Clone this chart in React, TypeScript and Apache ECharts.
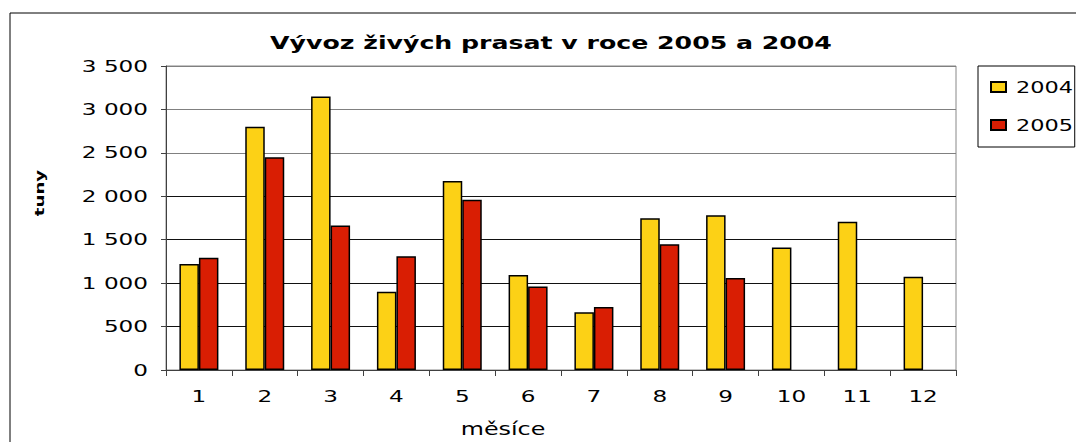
import React, { useEffect, useRef } from "react";
import * as echarts from "echarts";

const months = ["1", "2", "3", "4", "5", "6", "7", "8", "9", "10", "11", "12"];
const series2004 = [1220, 2800, 3150, 900, 2175, 1095, 665, 1748, 1782, 1410, 1706, 1075];
const series2005: (number | null)[] = [1292, 2450, 1664, 1311, 1961, 961, 726, 1448, 1060, null, null, null];
const yTicks = { min: 0, max: 3500, interval: 500 };
const titleText = "Vývoz živých prasat v roce 2005 a 2004";
const xName = "měsíce";
const yName = "tuny";

const FONT = "DejaVu Sans";
const WIDEN = 1.4;

function fmt(v: number): string {
  return String(v).replace(/\B(?=(\d{3})+(?!\d))/g, " ");
}

function widenTexts(root: HTMLElement) {
  const texts = root.querySelectorAll("svg text");
  texts.forEach((node) => {
    const t = node as SVGTextElement;
    const len = t.getComputedTextLength();
    if (len > 0) {
      t.setAttribute("textLength", String(len * WIDEN));
      t.setAttribute("lengthAdjust", "spacingAndGlyphs");
    }
  });
}

export default function App() {
  const ref = useRef<HTMLDivElement>(null);
  useEffect(() => {
    if (!ref.current) return;
    const chart = echarts.init(ref.current, null, { renderer: "svg" });
    chart.setOption({
      animation: false,
      backgroundColor: "#fff",
      textStyle: { fontFamily: FONT, color: "#000" },
      title: {
        text: titleText,
        left: 546,
        top: 28,
        textAlign: "center",
        textStyle: { fontFamily: FONT, fontSize: 18, fontWeight: "bold", color: "#000" },
      },
      legend: {
        orient: "vertical",
        left: 978,
        top: 66,
        padding: [13, 18, 14, 12],
        itemGap: 22,
        itemWidth: 15,
        itemHeight: 10,
        icon: "rect",
        borderColor: "#000",
        borderWidth: 1,
        textStyle: { fontFamily: FONT, fontSize: 16, color: "#000", padding: [0, 0, 0, 5] },
        data: ["2004", "2005"],
      },
      grid: { left: 166, top: 66, width: 790, height: 307, show: true, borderColor: "#888", borderWidth: 1 },
      xAxis: {
        type: "category",
        data: months,
        name: xName,
        nameLocation: "middle",
        nameGap: 50,
        nameTextStyle: { fontFamily: FONT, fontSize: 17, color: "#000", padding: [0, 116, 0, 0] },
        axisLine: { lineStyle: { color: "#404040", width: 1 } },
        axisTick: { show: true, length: 6, lineStyle: { color: "#404040" } },
        axisLabel: { fontFamily: FONT, fontSize: 16.5, color: "#000", margin: 18 },
      },
      yAxis: {
        type: "value",
        min: yTicks.min,
        max: yTicks.max,
        interval: yTicks.interval,
        name: yName,
        nameLocation: "middle",
        nameGap: 120,
        nameTextStyle: { fontFamily: FONT, fontSize: 13, fontWeight: "bold", color: "#000", padding: [0, 0, 0, 50] },
        axisLine: { show: true, lineStyle: { color: "#404040", width: 1 } },
        axisTick: { show: true, length: 5, lineStyle: { color: "#404040" } },
        axisLabel: { fontFamily: FONT, fontSize: 16.5, color: "#000", margin: 18, formatter: (v: number) => fmt(v) },
        splitLine: {
          lineStyle: {
            color: ["#111", "#111", "#111", "#111", "#111", "#808080", "#808080", "#808080"],
            width: 1,
          },
        },
      },
      graphic: [
        {
          type: "rect",
          silent: true,
          shape: { x: 10, y: 13, width: 1200, height: 600 },
          style: { fill: "none", stroke: "#000", lineWidth: 1 },
          z: 100,
        },
      ],
      series: [
        {
          name: "2004",
          type: "bar",
          data: series2004,
          barWidth: 19.5,
          barGap: "0%",
          itemStyle: { color: "#FCD116", borderColor: "#000", borderWidth: 1.5 },
        },
        {
          name: "2005",
          type: "bar",
          data: series2005,
          barWidth: 19.5,
          barGap: "0%",
          itemStyle: { color: "#D91E03", borderColor: "#000", borderWidth: 1.5 },
        },
      ],
    });
    const zr: any = (chart as any).getZr();
    if (zr && zr.refreshImmediately) zr.refreshImmediately();
    widenTexts(ref.current);
    return () => chart.dispose();
  }, []);
  return (
    <div
      ref={ref}
      style={{ position: "fixed", left: 0, top: 0, width: 1076, height: 442, background: "#fff" }}
    />
  );
}
